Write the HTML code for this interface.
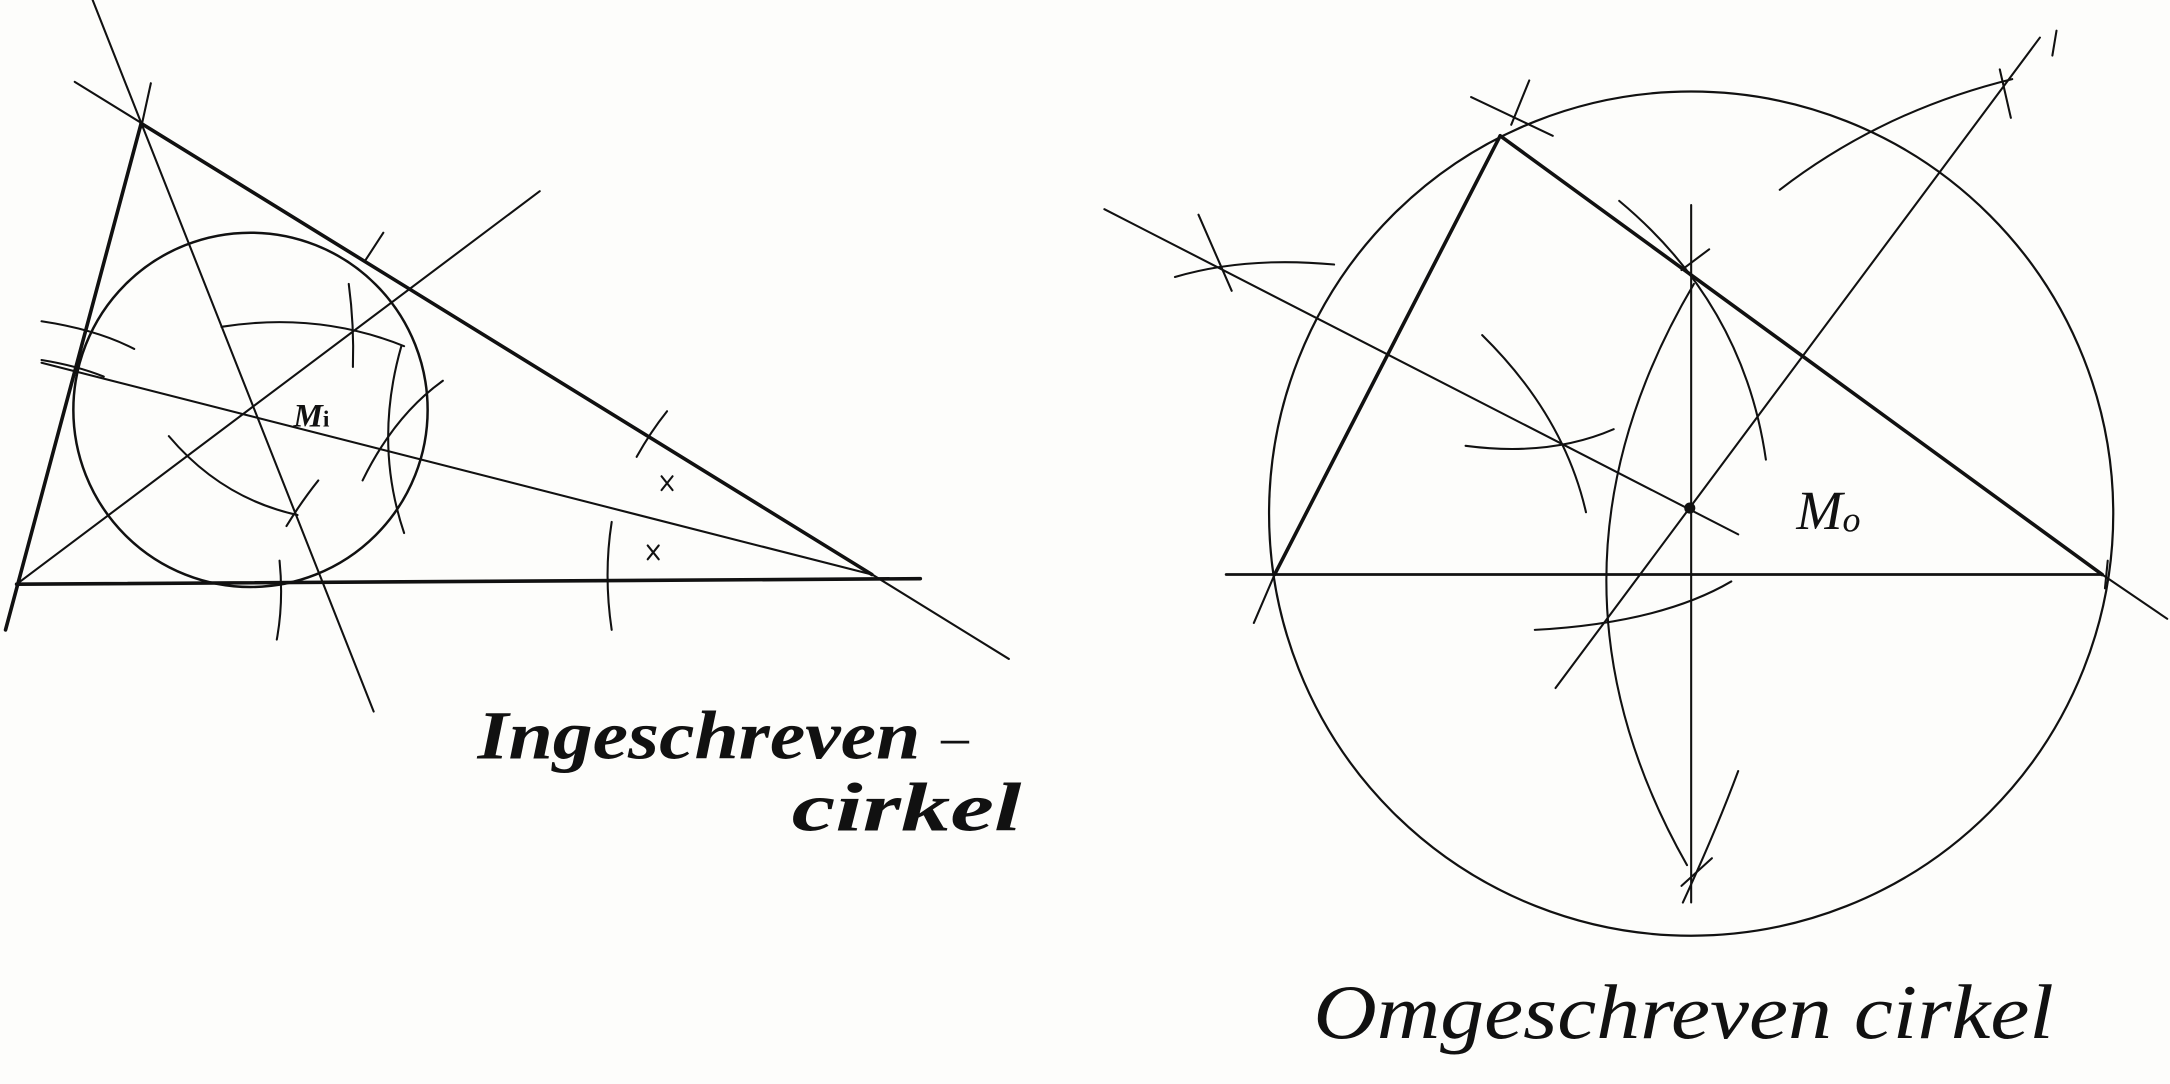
<!DOCTYPE html>
<html><head><meta charset="utf-8"><style>
html,body{margin:0;padding:0;background:#fdfdfb;}
svg{display:block;}
text{font-family:"Liberation Serif",serif;font-style:italic;fill:#111;}
</style></head><body>
<svg width="2170" height="1084" viewBox="0 0 1568 783" xmlns="http://www.w3.org/2000/svg">
<rect width="1568" height="783" fill="#fdfdfb"/>
<g stroke="#111" fill="none" stroke-linecap="round">
<g stroke-width="2.6">
<line x1="12" y1="422" x2="665" y2="418"/>
<line x1="102" y1="89" x2="630" y2="415"/>
<line x1="4" y1="455" x2="102" y2="89"/>
</g>
<g stroke-width="1.5">
<line x1="54" y1="59" x2="729" y2="476"/>
<line x1="67" y1="0" x2="270" y2="514"/>
<line x1="12" y1="422" x2="390" y2="138"/>
<line x1="30" y1="262" x2="630" y2="415"/>
<circle cx="181" cy="296" r="128" stroke-width="1.8"/>
<path d="M160 236 Q230 225 292 250"/>
<path d="M122 315 Q160 360 215 372"/>
<path d="M290 250 Q270 320 292 385"/>
<path d="M252 205 Q256 235 255 265"/>
<path d="M30 232 Q70 238 97 252"/>
<path d="M30 260 Q55 264 75 272"/>
<path d="M202 405 Q205 435 200 462"/>
<path d="M442 377 Q436 415 442 455"/>
<path d="M460 330 Q470 312 482 297"/>
<path d="M262 347 Q285 300 320 275"/>
<path d="M207 380 Q218 362 230 347"/>
<path d="M264 188 L277 168"/>
<path d="M109 60 L102 92"/>
<path d="M478 344 l8 10 M486 344 l-8 10"/>
<path d="M468 394 l8 10 M476 394 l-8 10"/>
</g>
<g stroke-width="2.6">
<line x1="886" y1="415" x2="1519" y2="415" stroke-width="2"/>
<line x1="921" y1="415" x2="1084" y2="98"/>
<line x1="1084" y1="98" x2="1519" y2="415"/>
</g>
<g stroke-width="1.5">
<line x1="1519" y1="415" x2="1566" y2="447"/>
<circle cx="1222" cy="371" r="305" stroke-width="1.6"/>
<line x1="1222" y1="148" x2="1222" y2="652"/>
<line x1="798" y1="151" x2="1256" y2="386"/>
<line x1="1124" y1="497" x2="1474" y2="27"/>
<path d="M1224 205 Q1100 415 1219 625"/>
<path d="M1170 145 Q1260 220 1276 332"/>
<path d="M1256 557 Q1240 600 1216 652"/>
<path d="M1071 242 Q1130 300 1146 370"/>
<path d="M1059 322 Q1120 330 1166 310"/>
<path d="M1109 455 Q1200 450 1251 420"/>
<path d="M1286 137 Q1360 80 1454 57"/>
<path d="M849 200 Q900 185 964 191"/>
<path d="M866 155 L890 210"/>
<path d="M1063 70 L1122 98"/>
<path d="M1092 90 L1105 58"/>
<path d="M1445 50 L1453 85"/>
<path d="M1486 22 L1483 40"/>
<path d="M1215 640 L1237 620"/>
<path d="M1215 195 L1235 180"/>
<path d="M906 450 L921 415"/>
<path d="M1523 405 L1521 425"/>
</g>
<circle cx="1221" cy="367" r="4" fill="#111" stroke="none"/>
</g>
<text x="212" y="308" font-size="24" font-weight="bold">M<tspan font-size="17" font-style="normal">i</tspan></text>
<text x="1298" y="382" font-size="40">M<tspan font-size="26" dy="2">o</tspan></text>
<text x="345" y="548" font-size="50" font-weight="bold" textLength="320" lengthAdjust="spacingAndGlyphs">Ingeschreven</text>
<text x="680" y="532" font-size="40">_</text>
<text x="572" y="600" font-size="50" font-weight="bold" textLength="166" lengthAdjust="spacingAndGlyphs">cirkel</text>
<text x="949" y="750" font-size="56" textLength="535" lengthAdjust="spacingAndGlyphs">Omgeschreven cirkel</text>
</svg>
</body></html>
